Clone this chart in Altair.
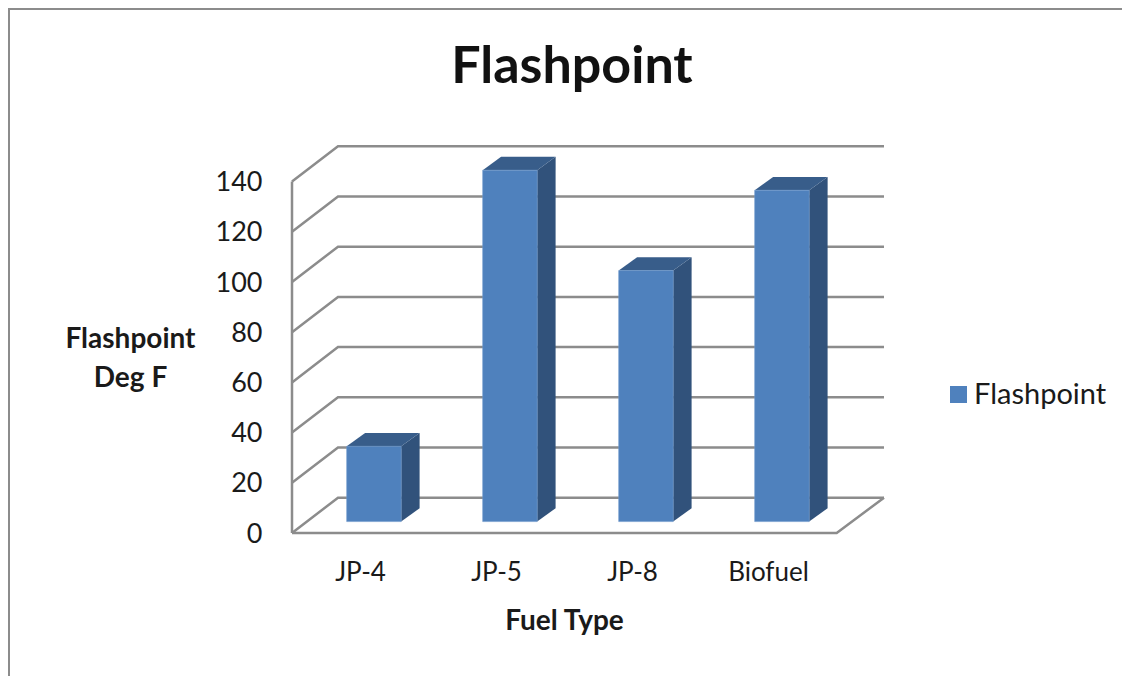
import altair as alt
import pandas as pd

fuels = ["JP-4", "JP-5", "JP-8", "Biofuel"]
flashpoint = [30, 140, 100, 132]
ticks = [0, 20, 40, 60, 80, 100, 120, 140]

SLOT_PX, VAL_PX = 136.0, 2.51
W, H = 592, 387
X_MAX, Y_MAX = W / SLOT_PX, H / VAL_PX
WALL_DX, WALL_DY = 46 / SLOT_PX, 35.3 / VAL_PX
FLOOR_END = 4.005
BAR_L, BAR_W = 54.7 / SLOT_PX, 54.5 / SLOT_PX
BASE = 11.4 / VAL_PX
BAR_DX, BAR_DY = 18.4 / SLOT_PX, 13.4 / VAL_PX

FONT = "Lato"
TEXT = "#1a1a1a"
GRID = "#8c8c8c"
FRONT, SIDE, TOP = "#4f81bd", "#31527b", "#385d8a"

grid_rows = []
for t in ticks:
    grid_rows += [
        {"g": t, "o": 0, "x": 0, "y": t},
        {"g": t, "o": 1, "x": WALL_DX, "y": t + WALL_DY},
        {"g": t, "o": 2, "x": X_MAX, "y": t + WALL_DY},
    ]
grid = pd.DataFrame(grid_rows)

floor = pd.DataFrame([
    {"o": 0, "x": 0, "y": 0},
    {"o": 1, "x": FLOOR_END, "y": 0},
    {"o": 2, "x": X_MAX, "y": WALL_DY},
])
wall = pd.DataFrame([{"o": 0, "x": 0, "y": 0}, {"o": 1, "x": 0, "y": ticks[-1]}])

front = pd.DataFrame([
    {"fuel": f, "series": "Flashpoint", "x": i + BAR_L, "x2": i + BAR_L + BAR_W,
     "y": BASE, "y2": BASE + v}
    for i, (f, v) in enumerate(zip(fuels, flashpoint))
])
side_rows, top_rows = [], []
for i, (f, v) in enumerate(zip(fuels, flashpoint)):
    l, r = i + BAR_L, i + BAR_L + BAR_W
    b, t = BASE, BASE + v
    side_rows += [
        {"fuel": f, "x": r, "y": b, "y2": t},
        {"fuel": f, "x": r + BAR_DX, "y": b + BAR_DY, "y2": t + BAR_DY},
    ]
    top_rows += [
        {"fuel": f, "x": l, "y": t, "y2": t},
        {"fuel": f, "x": l + BAR_DX, "y": t, "y2": t + BAR_DY},
        {"fuel": f, "x": r, "y": t, "y2": t + BAR_DY},
        {"fuel": f, "x": r + BAR_DX, "y": t + BAR_DY, "y2": t + BAR_DY},
    ]
side = pd.DataFrame(side_rows)
top = pd.DataFrame(top_rows)

xs = alt.Scale(domain=[0, X_MAX], range=[0, W], nice=False, zero=False)
ys = alt.Scale(domain=[0, Y_MAX], range=[H, 0], nice=False, zero=False)

label_expr = "[" + ",".join(f"'{f}'" for f in fuels) + "][floor(datum.value)]"

x_axis = alt.Axis(
    values=[i + 0.5 for i in range(len(fuels))], labelExpr=label_expr, domain=False, ticks=False,
    grid=False, labelFont=FONT, labelFontSize=26, labelColor=TEXT, labelPadding=26,
    title="Fuel Type", titleFont=FONT, titleFontSize=28, titleFontWeight="bold", titleColor=TEXT,
    titleX=272, titleY=88, titleAnchor="middle", titleBaseline="middle",
    labelFlush=False, labelOverlap=False,
)
y_axis = alt.Axis(
    values=ticks, domain=False, ticks=False, grid=False,
    labelFont=FONT, labelFontSize=27, labelColor=TEXT, labelPadding=30, labelOffset=1,
    title=["Flashpoint", "Deg F"], titleFont=FONT, titleFontSize=28, titleFontWeight="bold",
    titleColor=TEXT, titleAngle=0, titleX=-162, titleY=193, titleAlign="center",
    titleBaseline="middle", titleLineHeight=39, labelOverlap=False,
)


def X():
    return alt.X("x:Q", scale=xs, axis=x_axis)


def Y():
    return alt.Y("y:Q", scale=ys, axis=y_axis, stack=False)


axes = alt.Chart(wall).mark_line(color=GRID, strokeWidth=2.5).encode(
    x=X(), y=Y(), order="o:Q")
grid_l = alt.Chart(grid).mark_line(color=GRID, strokeWidth=2.5).encode(
    x=X(), y=Y(), detail="g:N", order="o:Q")
floor_l = alt.Chart(floor).mark_line(color=GRID, strokeWidth=2.5).encode(
    x=X(), y=Y(), order="o:Q")

side_m = alt.Chart(side).mark_area(color=SIDE, interpolate="linear").encode(
    x=X(), y=Y(), y2="y2:Q", detail="fuel:N")
top_m = alt.Chart(top).mark_area(color=TOP, interpolate="linear").encode(
    x=X(), y=Y(), y2="y2:Q", detail="fuel:N")
front_m = alt.Chart(front).mark_rect(stroke="#6d97cb", strokeWidth=0.6).encode(
    x=X(), x2="x2:Q", y=Y(), y2="y2:Q",
    color=alt.Color("series:N", scale=alt.Scale(domain=["Flashpoint"], range=[FRONT]),
                    legend=alt.Legend(
                        orient="none", legendX=652, legendY=234, title=None,
                        symbolType="square", symbolSize=290, symbolStrokeWidth=0,
                        labelFont=FONT, labelFontSize=29, labelColor=TEXT, labelOffset=1,
                    )),
)

frame_top = alt.Chart(pd.DataFrame({"a": [0]})).mark_rule(color="#8c8c8c", strokeWidth=3).encode(
    x=alt.value(-284), x2=alt.value(W + 238), y=alt.value(-137.5))
frame_left = alt.Chart(pd.DataFrame({"a": [0]})).mark_rule(color="#8c8c8c", strokeWidth=3).encode(
    x=alt.value(-283.5), y=alt.value(-138), y2=alt.value(H + 144))

chart = alt.layer(axes, grid_l, floor_l, side_m, top_m, front_m, frame_top, frame_left).properties(
    width=W, height=H,
    padding={"left": 284, "top": 138, "right": 238, "bottom": 143},
    autosize=alt.AutoSizeParams(type="none"),
    background="white",
    title=alt.TitleParams("Flashpoint", font=FONT, fontSize=52, fontWeight="bold", color="#111111",
                          anchor="middle", frame="group", dx=-16, offset=0, dy=87),
).configure_view(stroke=None)

chart.save("out.html", embed_options={"renderer": "svg", "actions": False})
